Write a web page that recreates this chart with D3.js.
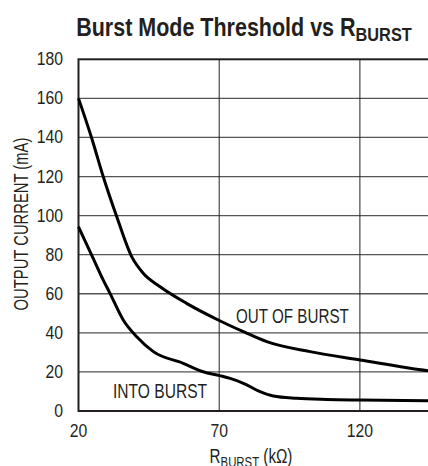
<html lang="en">
<head>
<meta charset="utf-8">
<title>Burst Mode Threshold vs RBURST</title>
<style>
  body { margin: 0; background: #fff; }
  svg text { font-family: "Liberation Sans", Arial, sans-serif; fill: #231f20; }
</style>
</head>
<body>
<div id="chart"></div>
<script src="https://cdnjs.cloudflare.com/ajax/libs/d3/7.8.5/d3.min.js"></script>
<script>
// data (kOhm, mA)
var outR = [20, 24.7, 28.8, 33.6, 38.9, 43.0, 49.0, 58.4, 70.2, 78.6, 86.9, 102.3, 120.1, 144.2, 150];
var outI = [160, 139.6, 119.9, 99.4, 79.0, 70.5, 63.6, 55.1, 46.2, 40.6, 35.5, 30.4, 26.1, 20.6, 19.6];
var intoR = [20, 25.3, 28.8, 31.2, 35.9, 40.7, 46.6, 57.2, 64.3, 70.2, 73.9, 78.6, 84.5, 89.2, 97.5, 108.2, 120.1, 144.2, 150];
var intoI = [94.3, 77.9, 67.0, 60.2, 46.6, 38.0, 30.4, 24.4, 20.1, 18.1, 16.7, 14.2, 9.9, 7.7, 6.5, 5.9, 5.6, 5.2, 5.1];
var xTicks = [20, 70, 120];
var yTicks = [0, 20, 40, 60, 80, 100, 120, 140, 160, 180];

var W = 428, H = 466;
var pLeft = 78.5, pTop = 59.3, pBottom = 411;

var svg = d3.select("#chart").append("svg")
    .attr("width", W).attr("height", H);

var x = d3.scaleLinear().domain([20, 150]).range([pLeft, pLeft + 130 / 50 * 140.7]);
var y = d3.scaleLinear().domain([0, 180]).range([pBottom, pTop]);

// the original face is a condensed sans, so squeeze text horizontally
function label(px, py, size, anchor, sx) {
    return svg.append("text")
        .attr("transform", "translate(" + px + "," + py + ") scale(" + sx + ",1)")
        .attr("text-anchor", anchor || "start")
        .attr("font-size", size);
}

// grid
svg.selectAll("line.h").data(yTicks.slice(1, -1)).enter().append("line")
    .attr("x1", x(20)).attr("x2", x(150))
    .attr("y1", function(d) { return y(d); }).attr("y2", function(d) { return y(d); })
    .attr("stroke", "#555").attr("stroke-width", 1.3);
svg.selectAll("line.v").data(xTicks.slice(1)).enter().append("line")
    .attr("x1", function(d) { return x(d); }).attr("x2", function(d) { return x(d); })
    .attr("y1", y(180)).attr("y2", y(0))
    .attr("stroke", "#222").attr("stroke-width", 1);

// frame
svg.append("rect")
    .attr("x", x(20)).attr("y", y(180))
    .attr("width", x(150) - x(20)).attr("height", y(0) - y(180))
    .attr("fill", "none").attr("stroke", "#231f20").attr("stroke-width", 2);

// tick labels
yTicks.forEach(function(d) {
    label(63, y(d) + 6, 17.5, "end", 0.9).text(d);
});
xTicks.forEach(function(d) {
    label(x(d), 437, 17.5, "middle", 0.9).text(d);
});

// curves
var line = d3.line()
    .x(function(d) { return x(d[0]); })
    .y(function(d) { return y(d[1]); })
    .curve(d3.curveMonotoneX);

svg.append("path").datum(d3.zip(outR, outI))
    .attr("d", line).attr("fill", "none")
    .attr("stroke", "#000").attr("stroke-width", 3);
svg.append("path").datum(d3.zip(intoR, intoI))
    .attr("d", line).attr("fill", "none")
    .attr("stroke", "#000").attr("stroke-width", 3);

// curve labels
label(236, 322.5, 20, "start", 0.76).text("OUT OF BURST");
label(113, 398, 20, "start", 0.78).text("INTO BURST");

// title
var t = label(244, 36, 25, "middle", 0.86).attr("font-weight", "bold");
t.append("tspan").text("Burst Mode Threshold vs R");
t.append("tspan").attr("dy", 5).attr("font-size", 19).text("BURST");

// axis titles
var xt = label(251, 463, 20, "middle", 0.76);
xt.append("tspan").text("R");
xt.append("tspan").attr("dy", 4).attr("font-size", 15).text("BURST");
xt.append("tspan").attr("dy", -4).text(" (k\u03A9)");

svg.append("text")
    .attr("transform", "translate(28,224) rotate(-90) scale(0.74,1)")
    .attr("text-anchor", "middle").attr("font-size", 20)
    .text("OUTPUT CURRENT (mA)");
</script>
</body>
</html>
